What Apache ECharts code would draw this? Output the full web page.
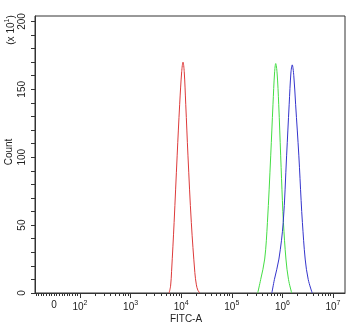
<!DOCTYPE html>
<html>
<head>
<meta charset="utf-8">
<script src="https://cdn.jsdelivr.net/npm/echarts@6/dist/echarts.min.js"></script>
<style>
  html, body { margin: 0; padding: 0; background: #fff; }
  #flowChart { width: 350px; height: 325px; }
</style>
</head>
<body>
<div id="flowChart"></div>
<script>
"use strict";

// x values are log10(FITC-A); the "0" of the biexponential scale sits at ZERO_POS
const ZERO_POS = 1.486;
const xLabelValues = [ZERO_POS, 2, 3, 4, 5, 6, 7];
const yLabelValues = [0, 50, 100, 150, 200];

const redLog = [3.76, 3.79, 3.81, 3.86, 3.92, 3.97, 4.01, 4.036, 4.06, 4.09, 4.134, 4.2, 4.27, 4.3, 4.33, 4.37];
const redCount = [0, 5, 16, 52, 101, 139, 163, 170, 163, 139, 101, 52, 15, 6, 2, 0];

const greenLog = [5.512, 5.571, 5.65, 5.704, 5.769, 5.814, 5.845, 5.868, 5.895, 5.927, 5.966, 6.0, 6.02, 6.07, 6.12, 6.184];
const greenCount = [0, 10, 25, 52, 101, 139, 162, 169, 162, 139, 101, 68, 52, 25, 10, 0];

const blueLog = [5.792, 5.842, 5.931, 6.016, 6.083, 6.134, 6.168, 6.194, 6.225, 6.261, 6.325, 6.37, 6.395, 6.45, 6.51, 6.589];
const blueCount = [0, 10, 25, 52, 101, 139, 162, 168, 160, 139, 101, 68, 52, 25, 10, 0];

const getElement = (id) => document.getElementById(id);
const pairs = (xs, ys) => xs.map((x, i) => [x, ys[i]]);

// minor ticks: linear part below 10^2, then 2..9 x 10^k
const minorTicks = [];
for (let k = -7; k <= 9; k++) minorTicks.push(ZERO_POS + k * 0.0514);
for (let d = 2; d < 8; d++) {
  for (let m = 2; m < 10; m++) {
    const v = d + Math.log10(m);
    if (v < 7.237) minorTicks.push(v);
  }
}
const yTicks = [];
for (let v = 0; v <= 200; v += 10) yTicks.push(v);

const axisColor = "#333";
const textColor = "#222";

const flowChart = echarts.init(getElement("flowChart"), null, { width: 350, height: 325 });

const line = (name, xs, ys, color) => ({
  name,
  type: "line",
  data: pairs(xs, ys),
  showSymbol: false,
  smooth: 0.35,
  lineStyle: { width: 1, color },
  itemStyle: { color },
  silent: true,
  animation: false,
});

flowChart.setOption({
  animation: false,
  grid: {
    left: 35, top: 16, right: 5, bottom: 32,
    show: true, borderColor: axisColor, borderWidth: 1,
  },
  xAxis: [
    {
      type: "value", min: 1.111, max: 7.237, position: "bottom",
      axisLine: { lineStyle: { color: axisColor, width: 1 } },
      axisTick: { customValues: [2, 3, 4, 5, 6, 7], length: 5, lineStyle: { color: axisColor } },
      splitLine: { show: false },
      axisLabel: {
        customValues: xLabelValues,
        margin: 7,
        color: textColor,
        fontFamily: "Liberation Sans",
        formatter: (v) => (Math.abs(v - ZERO_POS) < 1e-6 ? "{n|0}" : "{n|10}{s|" + Math.round(v) + "}"),
        rich: {
          n: { fontSize: 10, color: textColor, fontFamily: "Liberation Sans" },
          s: { fontSize: 7, color: textColor, fontFamily: "Liberation Sans", padding: [0, 0, 7, 0] },
        },
      },
    },
    {
      type: "value", min: 1.111, max: 7.237, position: "bottom",
      axisLine: { show: false },
      axisTick: { customValues: minorTicks, length: 3, lineStyle: { color: axisColor } },
      axisLabel: { show: false },
      splitLine: { show: false },
    },
  ],
  yAxis: {
    type: "value", min: 0, max: 204,
    axisLine: { show: true, lineStyle: { color: axisColor, width: 1 } },
    axisTick: { show: true, customValues: yTicks, length: 4, lineStyle: { color: axisColor } },
    splitLine: { show: false },
    axisLabel: {
      customValues: yLabelValues,
      rotate: 90,
      margin: 8,
      fontSize: 10,
      color: textColor,
      fontFamily: "Liberation Sans",
    },
  },
  graphic: [
    {
      type: "text", x: 4, y: 152, rotation: Math.PI / 2,
      style: { text: "Count", fontSize: 10, fill: textColor, fontFamily: "Liberation Sans", align: "center", verticalAlign: "top" },
    },
    {
      type: "text", x: 4, y: 30, rotation: Math.PI / 2,
      style: {
        text: "(x 10{s|1})", fontSize: 10, fill: textColor, fontFamily: "Liberation Sans",
        align: "center", verticalAlign: "top",
        rich: { s: { fontSize: 7, fill: textColor, padding: [0, 0, 7, 0] } },
      },
    },
    {
      type: "text", x: 186, y: 314,
      style: { text: "FITC-A", fontSize: 10, fill: textColor, fontFamily: "Liberation Sans", align: "center", verticalAlign: "top" },
    },
  ],
  series: [
    line("red", redLog, redCount, "#dd3a3a"),
    line("green", greenLog, greenCount, "#44dd44"),
    line("blue", blueLog, blueCount, "#3434cc"),
  ],
});
</script>
</body>
</html>
